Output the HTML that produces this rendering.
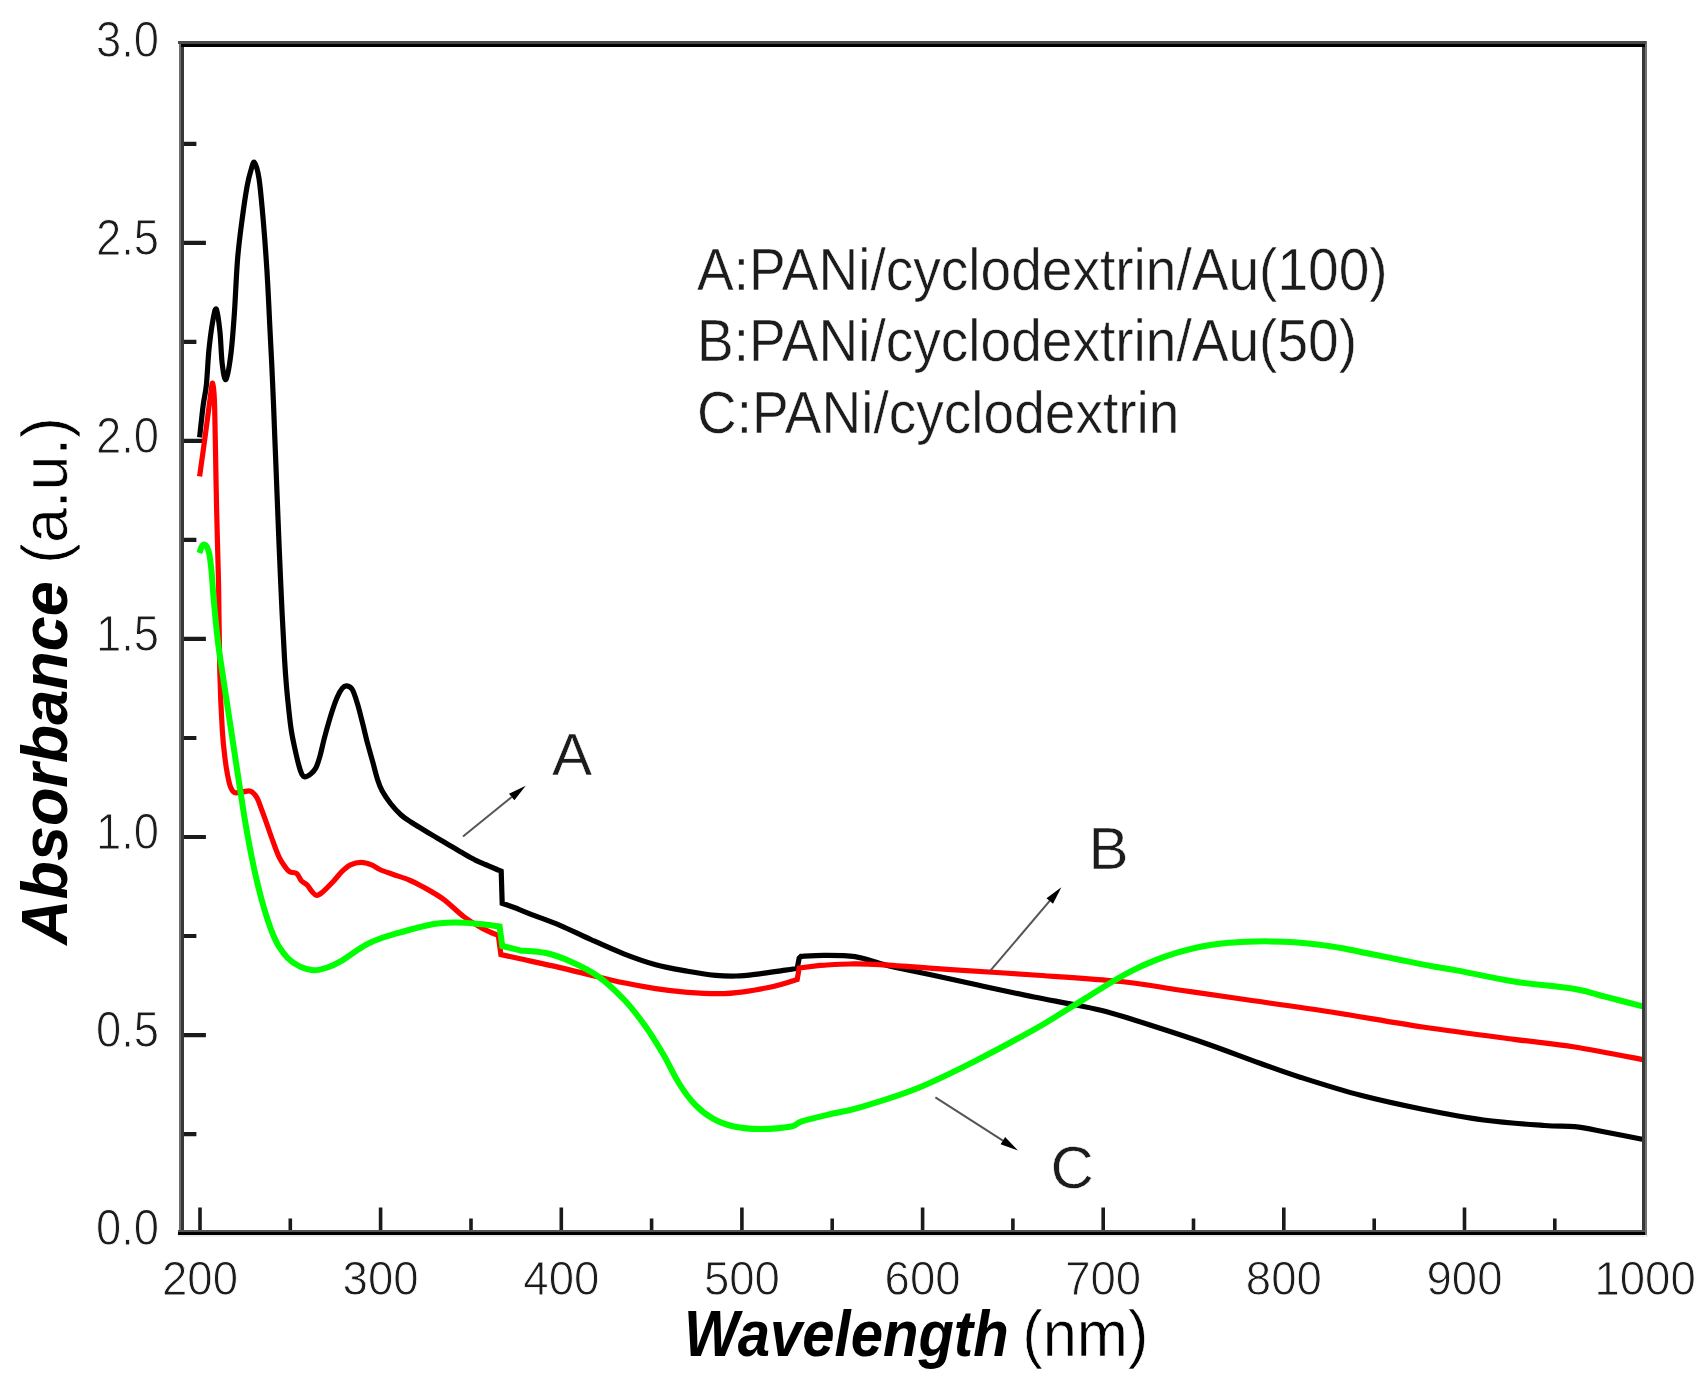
<!DOCTYPE html>
<html lang="en"><head><meta charset="utf-8"><title>UV-vis absorbance spectra</title>
<style>html,body{margin:0;padding:0;background:#fff}body{width:1708px;height:1380px;overflow:hidden}svg{display:block;filter:blur(0.7px)}text{font-family:"Liberation Sans",sans-serif;fill:#1c1c1c}.t{stroke:#fff;stroke-width:0.9px}.u{stroke:#fff;stroke-width:0.7px}.g{stroke:#fff;stroke-width:0.5px}</style></head><body>
<svg width="1708" height="1380" viewBox="0 0 1708 1380">
<rect width="1708" height="1380" fill="#fff"/>
<path d="M200.0,1233V1207.5M290.3,1233V1218.5M380.6,1233V1207.5M471.0,1233V1218.5M561.3,1233V1207.5M651.6,1233V1218.5M741.9,1233V1207.5M832.2,1233V1218.5M922.6,1233V1207.5M1012.9,1233V1218.5M1103.2,1233V1207.5M1193.5,1233V1218.5M1283.8,1233V1207.5M1374.2,1233V1218.5M1464.5,1233V1207.5M1554.8,1233V1218.5" stroke="#1a1a1a" stroke-width="3.6" fill="none"/>
<path d="M181.4,1134.1H196.4M181.4,1035.1H205.9M181.4,936.0H196.4M181.4,837.0H205.9M181.4,738.0H196.4M181.4,638.9H205.9M181.4,539.9H196.4M181.4,440.9H205.9M181.4,341.9H196.4M181.4,242.9H205.9M181.4,143.8H196.4" stroke="#1a1a1a" stroke-width="4.2" fill="none"/>
<g fill="none" stroke-linejoin="miter" stroke-miterlimit="3" stroke-linecap="butt">
<path d="M199.6,437.4C200.2,432.0 202.1,413.6 203.2,405.0C204.3,396.4 205.3,394.8 206.3,385.5C207.3,376.2 207.9,359.9 209.0,349.3C210.1,338.7 211.4,328.8 212.6,322.1C213.8,315.4 215.1,307.5 216.3,309.0C217.5,310.5 218.9,322.1 219.9,331.2C220.9,340.3 221.2,355.8 222.2,363.8C223.2,371.9 224.5,381.0 225.9,379.5C227.3,378.0 229.4,365.8 230.8,354.7C232.2,343.6 233.3,329.0 234.4,313.0C235.5,297.0 236.3,274.4 237.6,258.7C238.9,243.0 240.6,230.9 242.2,218.8C243.8,206.7 245.6,194.5 247.1,186.2C248.6,177.9 250.1,172.9 251.3,169.0C252.5,165.1 253.2,161.0 254.5,162.6C255.8,164.2 257.5,168.8 259.0,178.5C260.5,188.2 262.0,205.8 263.3,221.0C264.6,236.2 265.8,252.5 266.9,270.0C268.0,287.5 268.9,307.2 269.8,326.0C270.8,344.8 271.8,364.0 272.6,383.0C273.5,402.0 274.1,420.8 274.9,440.0C275.7,459.2 276.5,480.0 277.2,498.0C277.9,516.0 278.4,528.5 279.2,548.0C280.0,567.5 281.3,596.3 282.2,615.0C283.1,633.7 283.9,648.3 284.6,660.0C285.3,671.7 285.7,676.9 286.4,685.4C287.1,693.9 288.1,703.1 288.9,710.7C289.7,718.3 290.4,724.6 291.4,731.0C292.4,737.4 293.8,743.7 295.0,749.3C296.2,754.9 297.5,760.5 298.6,764.5C299.7,768.5 300.6,771.6 301.6,773.6C302.6,775.6 303.1,776.7 304.6,776.8C306.1,776.9 308.8,775.5 310.7,774.0C312.6,772.5 314.3,770.9 315.8,768.0C317.3,765.1 318.4,761.7 319.9,756.4C321.4,751.1 323.0,743.0 324.9,736.1C326.8,729.2 329.0,721.2 331.0,714.8C333.0,708.4 335.2,701.9 337.1,697.5C339.0,693.1 340.6,690.3 342.2,688.4C343.8,686.5 344.9,685.7 346.6,685.9C348.3,686.1 350.5,686.5 352.3,689.5C354.1,692.5 355.7,698.0 357.4,703.6C359.1,709.2 360.8,716.3 362.5,722.9C364.2,729.5 365.8,736.8 367.5,743.2C369.2,749.6 370.9,755.3 372.6,761.4C374.3,767.5 376.1,775.0 377.7,780.0C379.3,785.0 380.1,787.2 382.2,791.1C384.3,795.0 387.4,799.5 390.5,803.5C393.6,807.5 397.6,811.8 401.1,815.0C404.6,818.2 408.1,820.2 411.6,822.5C415.1,824.8 418.7,826.9 422.2,829.0C425.7,831.1 429.2,833.3 432.7,835.4C436.2,837.5 439.7,839.4 443.2,841.5C446.7,843.6 450.3,845.7 453.8,847.8C457.3,849.9 460.8,852.0 464.3,854.0C467.8,856.0 471.3,858.0 474.8,859.8C478.3,861.5 481.9,863.0 485.4,864.5C488.9,866.0 493.3,867.9 495.9,869.0C498.5,870.1 500.3,870.8 501.2,871.2L502.2,903.3L517.0,908.5C519.9,909.7 527.3,912.8 534.5,915.6C541.7,918.4 550.4,921.2 560.0,925.3C569.6,929.4 581.3,935.2 591.9,940.0C602.5,944.8 613.2,949.7 623.8,953.8C634.4,957.9 645.1,961.8 655.7,964.7C666.3,967.6 677.6,969.4 687.6,971.2C697.6,973.0 707.6,974.5 715.7,975.3C723.9,976.1 729.2,976.2 736.5,976.0C743.8,975.8 751.6,974.7 759.4,973.8C767.2,972.9 777.0,971.3 783.3,970.4C789.6,969.5 794.9,968.6 797.2,968.2L799.2,958.0L801.0,956.3C805.0,956.1 816.0,955.2 825.0,955.3C834.0,955.3 845.8,955.2 855.0,956.6C864.2,958.0 873.0,961.6 880.0,963.5C887.0,965.4 888.3,965.9 897.0,967.8C905.7,969.7 918.3,972.1 932.0,975.0C945.7,977.9 962.0,981.6 979.0,985.3C996.0,989.0 1018.0,993.8 1034.0,997.0C1050.0,1000.2 1062.9,1002.3 1075.0,1004.8C1087.1,1007.3 1094.3,1008.4 1106.8,1011.8C1119.3,1015.2 1133.1,1019.6 1150.0,1025.0C1166.9,1030.4 1189.7,1037.8 1208.0,1044.2C1226.3,1050.6 1244.5,1057.7 1260.0,1063.2C1275.5,1068.7 1284.0,1072.0 1300.9,1077.4C1317.9,1082.8 1341.4,1090.3 1361.7,1095.6C1382.0,1100.9 1402.3,1105.2 1422.6,1109.3C1442.9,1113.4 1463.2,1117.3 1483.5,1120.0C1503.8,1122.7 1529.1,1124.4 1544.3,1125.5C1559.5,1126.6 1564.7,1125.6 1574.8,1126.7C1584.9,1127.8 1593.3,1129.8 1605.0,1132.0C1616.7,1134.2 1638.1,1138.5 1644.7,1139.8" stroke="#000" stroke-width="5.2"/>
<path d="M199.6,476.3C200.7,468.6 204.1,444.4 206.0,430.0C207.9,415.6 210.1,397.7 211.2,390.0C212.3,382.3 212.3,382.3 212.8,384.0C213.3,385.7 214.0,390.7 214.4,400.0C214.8,409.3 214.9,421.2 215.3,440.0C215.7,458.8 216.1,488.3 216.7,512.5C217.2,536.7 218.1,558.4 218.6,585.0C219.1,611.6 219.2,647.8 219.8,672.0C220.4,696.2 221.4,715.3 222.3,730.0C223.2,744.7 224.3,752.5 225.2,760.0C226.1,767.5 226.7,770.7 227.6,775.2C228.5,779.7 229.3,784.0 230.5,786.9C231.7,789.8 232.5,791.8 234.6,792.6C236.7,793.4 240.2,792.1 242.8,791.9C245.4,791.7 248.1,790.3 250.4,791.2C252.7,792.1 255.0,794.5 256.8,797.5C258.7,800.5 259.7,804.5 261.5,809.2C263.3,813.9 265.4,820.1 267.4,825.6C269.3,831.1 271.2,836.7 273.2,842.0C275.1,847.3 277.2,853.1 279.1,857.2C281.1,861.3 283.1,864.2 284.9,866.6C286.6,869.0 287.6,870.6 289.6,871.8C291.6,872.9 294.8,872.0 296.7,873.5C298.6,875.0 299.6,878.9 301.3,880.8C303.1,882.7 305.4,883.2 307.2,885.0C309.0,886.8 310.3,889.8 311.9,891.5C313.5,893.2 314.9,895.3 316.6,895.4C318.4,895.5 319.7,894.6 322.4,892.3C325.1,890.0 329.7,885.3 333.0,881.8C336.3,878.3 339.4,874.0 342.3,871.2C345.2,868.4 347.4,866.3 350.5,864.8C353.6,863.3 357.6,862.3 361.1,862.3C364.6,862.3 368.5,863.6 371.6,864.8C374.7,866.0 376.3,867.9 379.8,869.5C383.3,871.1 387.8,872.5 392.7,874.2C397.6,876.0 404.2,878.0 409.1,880.0C414.0,882.0 416.5,883.2 422.2,886.4C427.9,889.6 436.2,894.0 443.2,899.1C450.2,904.2 457.7,912.1 464.3,917.0C470.9,921.9 477.2,925.5 482.9,928.6C488.6,931.7 495.7,934.4 498.3,935.5L500.9,954.5L520.0,958.8C526.7,960.3 548.0,964.8 560.0,967.6C572.0,970.4 581.3,972.9 591.9,975.4C602.5,977.9 613.2,980.6 623.8,982.8C634.4,985.0 645.1,987.0 655.7,988.6C666.3,990.2 677.0,991.5 687.6,992.4C698.2,993.2 710.2,993.8 719.5,993.7C728.8,993.6 735.4,992.8 743.4,991.8C751.4,990.8 760.6,989.1 767.3,987.8C773.9,986.5 778.3,985.2 783.3,983.8C788.3,982.4 794.9,980.2 797.2,979.5L799.2,968.0L820.0,965.4C825.0,965.2 840.0,964.1 850.0,964.0C860.0,963.9 863.8,963.7 880.0,964.6C896.2,965.5 921.3,967.6 947.0,969.3C972.7,971.0 1005.0,973.0 1034.0,975.0C1063.0,977.0 1096.8,979.0 1121.0,981.5C1145.2,984.0 1159.2,987.1 1179.0,990.0C1198.8,992.9 1214.6,995.1 1240.0,998.8C1265.4,1002.5 1300.9,1007.3 1331.3,1012.0C1361.7,1016.7 1392.1,1022.5 1422.6,1027.0C1453.0,1031.5 1488.6,1036.0 1514.0,1039.3C1539.4,1042.6 1553.0,1043.5 1574.8,1047.0C1596.6,1050.5 1633.0,1057.8 1644.7,1060.0" stroke="#ff0000" stroke-width="5.2"/>
<path d="M199.4,553.0C199.8,551.9 201.0,547.9 201.8,546.5C202.6,545.1 203.5,544.3 204.3,544.4C205.2,544.5 206.1,545.5 206.9,547.0C207.7,548.5 208.4,549.3 209.2,553.5C210.0,557.7 210.9,564.7 211.6,572.2C212.3,579.7 212.6,587.0 213.6,598.3C214.6,609.6 216.3,628.0 217.7,640.0C219.1,652.0 220.5,660.0 222.0,670.0C223.5,680.0 225.0,690.0 226.5,700.0C228.0,710.0 229.6,720.0 231.1,730.0C232.6,740.0 234.1,750.0 235.6,760.0C237.1,770.0 238.6,780.0 240.2,790.0C241.8,800.0 243.2,810.0 244.9,820.0C246.6,830.0 248.5,840.8 250.3,850.0C252.1,859.2 253.6,866.7 255.5,875.0C257.4,883.3 259.7,892.5 261.7,900.0C263.7,907.5 265.8,914.2 267.7,920.0C269.6,925.8 271.1,930.0 273.0,934.5C274.9,939.0 276.5,942.7 279.0,946.7C281.5,950.7 284.6,955.0 288.0,958.3C291.4,961.6 295.4,964.4 299.6,966.4C303.9,968.4 308.9,970.0 313.5,970.2C318.1,970.4 323.0,968.9 327.4,967.5C331.8,966.1 335.1,964.6 340.1,961.7C345.1,958.8 352.7,953.2 357.5,950.1C362.3,947.0 365.2,945.2 369.1,943.2C373.0,941.2 377.2,939.7 380.7,938.4C384.2,937.1 382.1,937.5 390.0,935.3C397.9,933.1 417.2,927.3 427.8,925.2C438.4,923.1 445.2,922.8 453.9,922.6C462.6,922.4 472.4,923.4 480.0,924.0C487.6,924.6 496.3,926.1 499.6,926.5L502.2,946.0L520.0,950.4C524.3,950.8 537.3,951.0 546.0,953.0C554.7,955.0 563.5,958.3 572.2,962.2C580.9,966.1 589.6,970.2 598.3,976.5C607.0,982.8 616.6,991.8 624.4,1000.0C632.2,1008.2 638.7,1016.9 645.2,1026.0C651.7,1035.1 657.9,1045.2 663.5,1054.8C669.1,1064.4 673.9,1075.2 679.1,1083.5C684.3,1091.8 689.1,1098.5 694.8,1104.4C700.4,1110.3 706.5,1115.0 713.0,1118.7C719.5,1122.4 726.1,1124.8 733.9,1126.5C741.7,1128.2 750.4,1129.0 760.0,1129.0C769.6,1129.0 784.3,1127.8 791.3,1126.5C798.2,1125.2 794.8,1123.5 801.7,1121.3C808.7,1119.1 823.3,1115.8 833.0,1113.5C842.7,1111.2 845.8,1111.7 860.0,1107.4C874.2,1103.2 898.7,1095.8 918.0,1088.0C937.3,1080.2 956.7,1070.3 976.0,1060.6C995.3,1050.9 1020.0,1037.4 1034.0,1029.6C1048.0,1021.8 1051.8,1019.0 1060.0,1014.0C1068.2,1009.0 1075.6,1004.4 1083.4,999.6C1091.2,994.8 1099.0,989.7 1106.8,985.0C1114.6,980.3 1122.5,975.6 1130.3,971.6C1138.1,967.6 1145.9,964.0 1153.7,960.9C1161.5,957.8 1169.3,955.1 1177.1,952.7C1184.9,950.4 1192.7,948.4 1200.5,946.8C1208.3,945.2 1216.1,944.1 1223.9,943.3C1231.7,942.4 1239.6,942.0 1247.4,941.7C1255.2,941.4 1263.0,941.3 1270.8,941.4C1278.6,941.5 1286.4,941.7 1294.2,942.2C1302.0,942.7 1309.8,943.5 1317.6,944.5C1325.4,945.5 1333.2,946.6 1341.0,948.0C1348.8,949.4 1356.6,951.1 1364.4,952.7C1372.2,954.3 1380.1,955.8 1387.9,957.4C1395.7,959.0 1403.5,960.5 1411.3,962.1C1419.1,963.7 1426.9,965.3 1434.7,966.7C1442.5,968.1 1444.9,968.1 1458.1,970.6C1471.3,973.1 1494.5,978.4 1514.0,981.5C1533.5,984.6 1559.6,986.5 1574.8,989.0C1590.0,991.5 1593.3,993.7 1605.0,996.7C1616.7,999.7 1638.1,1005.1 1644.7,1006.8" stroke="#00ff00" stroke-width="6.0"/>
</g>
<g shape-rendering="crispEdges">
<rect x="178.8" y="41.2" width="2.4" height="1193.8" fill="#6c6c6c"/><rect x="181.2" y="40.9" width="2.9" height="1194.3" fill="#383838"/>
<rect x="1642.2" y="40.9" width="2.8" height="1194.3" fill="#383838"/><rect x="1645" y="41.2" width="2.4" height="1193.8" fill="#727272"/>
<rect x="178.4" y="40.9" width="1468" height="3" fill="#4a4a4a"/><rect x="181.2" y="43.9" width="1463.8" height="2.9" fill="#000"/>
<rect x="178.4" y="1229.6" width="1466.6" height="2.6" fill="#555"/><rect x="178.4" y="1232.2" width="1466.6" height="3" fill="#000"/><rect x="178.4" y="1235.2" width="1469.4" height="1.6" fill="#eee"/>
</g>
<text transform="translate(200.0,1295.2) scale(0.93,1)" font-size="49" text-anchor="middle" class="t">200</text>
<text transform="translate(380.6,1295.2) scale(0.93,1)" font-size="49" text-anchor="middle" class="t">300</text>
<text transform="translate(561.3,1295.2) scale(0.93,1)" font-size="49" text-anchor="middle" class="t">400</text>
<text transform="translate(741.9,1295.2) scale(0.93,1)" font-size="49" text-anchor="middle" class="t">500</text>
<text transform="translate(922.6,1295.2) scale(0.93,1)" font-size="49" text-anchor="middle" class="t">600</text>
<text transform="translate(1103.2,1295.2) scale(0.93,1)" font-size="49" text-anchor="middle" class="t">700</text>
<text transform="translate(1283.8,1295.2) scale(0.93,1)" font-size="49" text-anchor="middle" class="t">800</text>
<text transform="translate(1464.5,1295.2) scale(0.93,1)" font-size="49" text-anchor="middle" class="t">900</text>
<text transform="translate(1645.1,1295.2) scale(0.93,1)" font-size="49" text-anchor="middle" class="t">1000</text>
<text transform="translate(159.0,1245.3) scale(0.926,1)" font-size="49" text-anchor="end" class="t">0.0</text>
<text transform="translate(159.0,1047.2) scale(0.926,1)" font-size="49" text-anchor="end" class="t">0.5</text>
<text transform="translate(159.0,849.2) scale(0.926,1)" font-size="49" text-anchor="end" class="t">1.0</text>
<text transform="translate(159.0,651.1) scale(0.926,1)" font-size="49" text-anchor="end" class="t">1.5</text>
<text transform="translate(159.0,453.1) scale(0.926,1)" font-size="49" text-anchor="end" class="t">2.0</text>
<text transform="translate(159.0,255.1) scale(0.926,1)" font-size="49" text-anchor="end" class="t">2.5</text>
<text transform="translate(159.0,57.0) scale(0.926,1)" font-size="49" text-anchor="end" class="t">3.0</text>
<text transform="translate(684.0,1356.0) scale(0.907,1)" font-size="64" text-anchor="start" style="fill:#000" font-weight="bold" font-style="italic">Wavelength</text>
<text transform="translate(1148.5,1356.0) scale(0.96,1)" font-size="64" text-anchor="end" style="fill:#000" class="u">(nm)</text>
<text transform="translate(66.6,681.0) rotate(-90) scale(0.983,1)" font-size="64" text-anchor="middle" style="fill:#000"><tspan font-weight="bold" font-style="italic">Absorbance</tspan><tspan class="u"> (a.u.)</tspan></text>
<text transform="translate(697.0,290.3) scale(0.9335,1)" font-size="59" text-anchor="start" class="g">A:PANi/cyclodextrin/Au(100)</text>
<text transform="translate(697.0,361.4) scale(0.9335,1)" font-size="59" text-anchor="start" class="g">B:PANi/cyclodextrin/Au(50)</text>
<text transform="translate(697.0,432.5) scale(0.9335,1)" font-size="59" text-anchor="start" class="g">C:PANi/cyclodextrin</text>
<text transform="translate(552.0,775.0) scale(1.02,1)" font-size="59" text-anchor="start" class="g">A</text>
<text transform="translate(1088.5,869.0) scale(1.02,1)" font-size="59" text-anchor="start" class="g">B</text>
<text transform="translate(1050.5,1188.0) scale(1.02,1)" font-size="59" text-anchor="start" class="g">C</text>
<path d="M463,836.5L511.7,797.0" stroke="#555" stroke-width="2" fill="none"/>
<path d="M525.7,785.7L514.4,800.3L509.0,793.7Z" fill="#000"/>
<path d="M990.4,970.7L1049.7,900.9" stroke="#555" stroke-width="2" fill="none"/>
<path d="M1061.4,887.2L1053.0,903.7L1046.5,898.2Z" fill="#000"/>
<path d="M935.4,1097.4L1002.9,1140.7" stroke="#555" stroke-width="2" fill="none"/>
<path d="M1018,1150.4L1000.6,1144.3L1005.1,1137.1Z" fill="#000"/>
</svg></body></html>
